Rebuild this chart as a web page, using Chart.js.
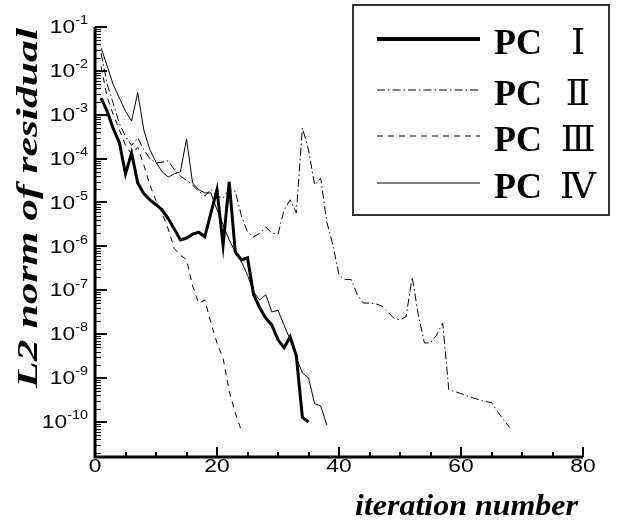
<!DOCTYPE html>
<html>
<head>
<meta charset="utf-8">
<script src="https://cdn.jsdelivr.net/npm/chart.js@4.4.1/dist/chart.umd.min.js"></script>
<style>
  body { margin: 0; background: #fff; }
  canvas { display: block; }
</style>
</head>
<body>
<canvas id="chart" width="620" height="520"></canvas>
<script>
// residuals per iteration, iterations start at 1
const seriesLabels = ['PC Ⅰ', 'PC Ⅱ', 'PC Ⅲ', 'PC Ⅳ'];

const pc1 = [2.4e-3, 1.2e-3, 4.8e-4, 2.3e-4, 4.5e-5, 1.35e-4, 2.8e-5, 1.6e-5, 1.15e-5, 8.9e-6,
  6.8e-6, 4.3e-6, 2.5e-6, 1.4e-6, 1.55e-6, 1.9e-6, 2.1e-6, 1.65e-6, 5.8e-6, 1.95e-5,
  1.07e-6, 2.95e-5, 7.4e-7, 4.9e-7, 5.5e-7, 7.9e-8, 4.0e-8, 2.3e-8, 1.6e-8, 7.4e-9,
  4.9e-9, 8.7e-9, 3.2e-9, 1.26e-10, 1.0e-10];

const pc2 = [2.5e-2, 5.0e-3, 1.8e-3, 6.3e-4, 3.2e-4, 2.0e-4, 3.0e-4, 1.6e-4, 1.0e-4, 7.9e-5,
  8.3e-5, 8.9e-5, 5.6e-5, 4.0e-5, 3.2e-5, 2.5e-5, 1.8e-5, 1.4e-5, 2.0e-5, 1.4e-5,
  1.26e-5, 2.0e-5, 1.8e-5, 5.0e-6, 2.1e-6, 1.65e-6, 2.0e-6, 2.75e-6, 2.0e-6, 1.9e-6,
  6.8e-6, 1.15e-5, 5.8e-6, 5.0e-4, 1.6e-4, 2.5e-5, 3.6e-5, 3.6e-6, 1.07e-6, 2.2e-7,
  1.75e-7, 1.75e-7, 7.9e-8, 5.1e-8, 5.1e-8, 4.9e-8, 4.4e-8, 3.2e-8, 2.3e-8, 2.1e-8,
  2.5e-8, 2.0e-7, 2.75e-8, 6.3e-9, 6.3e-9, 9.5e-9, 1.8e-8, 5.4e-10, 4.9e-10, 4.4e-10,
  3.9e-10, 3.5e-10, 3.2e-10, 2.9e-10, 2.75e-10, 1.7e-10, 1.1e-10, 7.4e-11];

const pc3 = [1.26e-2, 2.5e-3, 1.0e-3, 4.5e-4, 2.0e-4, 1.26e-4, 1.8e-4, 7.2e-5, 2.5e-5, 1.1e-5,
  5.6e-6, 2.5e-6, 8.9e-7, 6.3e-7, 5.0e-7, 1.26e-7, 5.0e-8, 6.0e-8, 1.8e-8, 6.3e-9,
  2.8e-9, 5.0e-10, 1.6e-10, 6.3e-11];

const pc4 = [3.3e-2, 1.3e-2, 4.8e-3, 2.4e-3, 1.2e-3, 7.2e-4, 3.2e-3, 4.5e-4, 1.6e-4, 8.3e-5,
  5.0e-5, 3.8e-5, 4.5e-5, 5.0e-5, 2.8e-4, 2.8e-5, 1.95e-5, 1.65e-5, 1.65e-5, 6.8e-6,
  3.1e-6, 1.4e-6, 7.4e-7, 4.5e-7, 2.2e-7, 9.1e-8, 6.0e-8, 7.9e-8, 3.2e-8, 3.5e-8,
  1.6e-8, 7.4e-9, 2.9e-9, 1.3e-9, 1.0e-9, 2.6e-10, 2.3e-10, 8.5e-11];

const xTicks = [0, 20, 40, 60, 80];
const xMinorStep = 5;
const yExponents = [-1, -2, -3, -4, -5, -6, -7, -8, -9, -10];
const yMin = 1.58e-11;
const yMax = 0.1;

const toPoints = (arr) => arr.map((v, i) => ({ x: i + 1, y: v }));

const styles = [
  { borderWidth: 3, borderDash: [] },
  { borderWidth: 1, borderDash: [8, 3, 1.5, 3] },
  { borderWidth: 1, borderDash: [6, 5] },
  { borderWidth: 1, borderDash: [] }
];

const allSeries = [pc1, pc2, pc3, pc4];

// draws a string squeezed/stretched horizontally
function wideText(ctx, text, x, y, sx) {
  ctx.save();
  ctx.translate(x, y);
  ctx.scale(sx, 1);
  ctx.fillText(text, 0, 0);
  ctx.restore();
}

function fitText(ctx, text, x, y, width, rotate) {
  const w = ctx.measureText(text).width;
  ctx.save();
  ctx.translate(x, y);
  if (rotate) ctx.rotate(-Math.PI / 2);
  ctx.scale(width / w, 1);
  ctx.fillText(text, 0, 0);
  ctx.restore();
}

const axesPlugin = {
  id: 'axes',
  afterDatasetsDraw(chart) {
    const ctx = chart.ctx;
    const xs = chart.scales.x;
    const ys = chart.scales.y;
    const a = chart.chartArea;
    ctx.save();
    ctx.strokeStyle = '#000';
    ctx.fillStyle = '#000';

    // y ticks (inside)
    for (let e = -11; e <= -1; e++) {
      const major = Math.pow(10, e);
      if (major >= yMin) {
        const py = Math.round(ys.getPixelForValue(major));
        ctx.lineWidth = 2;
        ctx.beginPath(); ctx.moveTo(a.left, py); ctx.lineTo(a.left + 12, py); ctx.stroke();
      }
      if (e < -1) {
        for (let m = 2; m <= 9; m++) {
          const v = m * major;
          if (v < yMin || v > yMax) continue;
          const py = Math.round(ys.getPixelForValue(v)) + 0.5;
          ctx.lineWidth = 1;
          ctx.beginPath(); ctx.moveTo(a.left, py); ctx.lineTo(a.left + 6, py); ctx.stroke();
        }
      }
    }

    // x ticks (inside)
    for (let v = 0; v <= 80; v += xMinorStep) {
      const px = Math.round(xs.getPixelForValue(v));
      const isMajor = xTicks.includes(v);
      ctx.lineWidth = 2;
      ctx.beginPath(); ctx.moveTo(px, a.bottom); ctx.lineTo(px, a.bottom - (isMajor ? 10 : 5)); ctx.stroke();
    }

    // axis lines
    ctx.lineWidth = 3;
    ctx.beginPath();
    ctx.moveTo(a.left, a.top);
    ctx.lineTo(a.left, a.bottom);
    ctx.lineTo(a.right, a.bottom);
    ctx.stroke();

    // y tick labels 10^e
    ctx.textBaseline = 'middle';
    ctx.textAlign = 'left';
    yExponents.forEach((e) => {
      const py = ys.getPixelForValue(Math.pow(10, e));
      ctx.font = '12px "Liberation Sans", Arial, sans-serif';
      const expText = '-' + Math.abs(e);
      const ew = ctx.measureText(expText).width * 1.2;
      ctx.font = '19px "Liberation Sans", Arial, sans-serif';
      const bw = ctx.measureText('10').width * 1.2;
      const right = 88;
      wideText(ctx, '10', right - ew - bw, py + 1, 1.2);
      ctx.font = '12px "Liberation Sans", Arial, sans-serif';
      wideText(ctx, expText, right - ew, py - 6, 1.2);
    });

    // x tick labels
    ctx.font = '19px "Liberation Sans", Arial, sans-serif';
    xTicks.forEach((v) => {
      const px = xs.getPixelForValue(v);
      const w = ctx.measureText(String(v)).width * 1.2;
      wideText(ctx, String(v), px - w / 2, a.bottom + 10, 1.2);
    });

    // axis titles
    ctx.font = 'italic bold 30px "Liberation Serif", "Times New Roman", serif';
    ctx.textAlign = 'center';
    ctx.textBaseline = 'alphabetic';
    fitText(ctx, 'L2 norm of residual', 37, 208, 360, true);
    ctx.textAlign = 'left';
    fitText(ctx, 'iteration number', 355, 515, 223, false);

    // legend
    ctx.fillStyle = '#fff';
    ctx.fillRect(353, 5, 256, 210);
    ctx.strokeStyle = '#333';
    ctx.lineWidth = 2;
    ctx.strokeRect(353, 5, 256, 210);
    const rowY = [39, 90, 136, 183];
    seriesLabels.forEach((label, i) => {
      const y = rowY[i];
      ctx.strokeStyle = i === 0 ? '#000' : '#555';
      ctx.lineWidth = i === 0 ? 4 : 1.5;
      ctx.setLineDash(styles[i].borderDash);
      ctx.beginPath(); ctx.moveTo(377, y); ctx.lineTo(480, y); ctx.stroke();
      ctx.setLineDash([]);
      const parts = label.split(' ');
      ctx.fillStyle = '#000';
      ctx.textBaseline = 'middle';
      ctx.textAlign = 'left';
      ctx.font = 'bold 36px "Liberation Serif", "Times New Roman", serif';
      ctx.fillText(parts[0], 494, y + 6);
      ctx.textAlign = 'center';
      ctx.font = '36px "Liberation Serif", "DejaVu Serif", serif';
      ctx.fillText(parts[1], 578, y + 6);
    });
    ctx.restore();
  }
};

new Chart(document.getElementById('chart'), {
  type: 'scatter',
  data: {
    datasets: allSeries.map((s, i) => ({
      label: seriesLabels[i],
      data: toPoints(s),
      showLine: true,
      borderColor: '#000',
      backgroundColor: '#000',
      borderWidth: styles[i].borderWidth,
      borderDash: styles[i].borderDash,
      pointRadius: 0,
      tension: 0
    }))
  },
  options: {
    responsive: false,
    animation: false,
    devicePixelRatio: 1,
    layout: { padding: { left: 95, right: 37, top: 27, bottom: 63 } },
    plugins: { legend: { display: false }, tooltip: { enabled: false } },
    scales: {
      x: { type: 'linear', min: 0, max: 80, display: false },
      y: { type: 'logarithmic', min: yMin, max: yMax, display: false }
    }
  },
  plugins: [axesPlugin]
});
</script>
</body>
</html>
